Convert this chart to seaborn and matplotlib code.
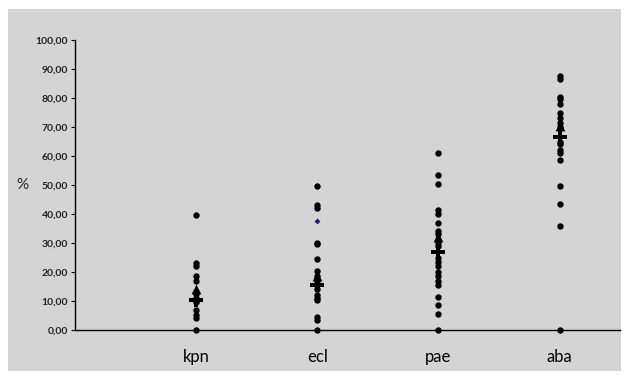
import pandas as pd
import numpy as np
import matplotlib.pyplot as plt
import seaborn as sns
from matplotlib.patches import Rectangle
from matplotlib.ticker import FuncFormatter

################ DATA ################
groups = ['kpn', 'ecl', 'pae', 'aba']

kpn = [39.5, 23.0, 22.0, 18.5, 17.0, 12.5, 11.0, 10.0, 9.5, 7.0, 5.0, 4.0, 0.0]
ecl = [49.5, 43.0, 42.0, 30.0, 29.5, 24.5, 20.5, 18.5, 17.0, 15.5, 14.0, 12.0,
       11.0, 10.5, 4.5, 3.5, 0.0]
pae = [61.0, 53.5, 50.5, 41.5, 40.0, 37.0, 34.0, 33.0, 30.0, 29.0, 25.0, 23.5,
       22.0, 20.0, 18.5, 17.0, 15.5, 11.5, 8.5, 5.5, 0.0]
aba = [87.5, 86.5, 80.5, 79.5, 78.0, 75.0, 73.0, 71.5, 70.0, 65.0, 64.0, 62.0,
       61.0, 58.5, 49.5, 43.5, 36.0, 0.0]

# summary markers
mean_vals = [14.0, 18.5, 32.0, 70.5]     # triangles
median_vals = [10.5, 15.5, 27.0, 66.5]   # thick crosses

# single blue point in ecl
extra_group = ['ecl']
extra_vals = [37.5]

################ LONG FORMAT ################
df = pd.DataFrame({
    'group': ['kpn'] * len(kpn) + ['ecl'] * len(ecl) + ['pae'] * len(pae) + ['aba'] * len(aba),
    'value': kpn + ecl + pae + aba
})
df_mean = pd.DataFrame({'group': groups, 'value': mean_vals})
df_med = pd.DataFrame({'group': groups, 'value': median_vals})
df_extra = pd.DataFrame({'group': extra_group, 'value': extra_vals})

################ PLOT ################
sns.set_style('white')
plt.rcParams['font.family'] = ['Lato', 'DejaVu Sans']

fig = plt.figure(figsize=(6.29, 3.80), dpi=100)
fig.patch.set_facecolor('white')
fig.patches.append(Rectangle((8 / 629, 9 / 380), 613 / 629, 362 / 380,
                             transform=fig.transFigure, facecolor='#d4d4d4',
                             edgecolor='none', zorder=-10))

ax = fig.add_axes([0.119, 0.1316, 0.867, 0.763])
ax.set_facecolor('none')

sns.stripplot(data=df, x='group', y='value', order=groups, jitter=False,
              color='black', size=4.6, linewidth=0, ax=ax, clip_on=False, zorder=3)
sns.stripplot(data=df_extra, x='group', y='value', order=groups, jitter=False,
              color='#1a1a8c', marker='D', size=3, linewidth=0, ax=ax, zorder=4)
sns.stripplot(data=df_mean, x='group', y='value', order=groups, jitter=False,
              color='black', marker='^', size=7, linewidth=0, ax=ax, zorder=4)
sns.stripplot(data=df_med, x='group', y='value', order=groups, jitter=False,
              color='black', marker='P', size=10.5, linewidth=0, ax=ax, zorder=5)

ax.set_xlim(-1, 3.5)
ax.set_ylim(0, 100)
ax.set_yticks(np.arange(0, 101, 10))
ax.yaxis.set_major_formatter(FuncFormatter(lambda v, p: f"{v:.2f}".replace('.', ',')))
ax.tick_params(axis='y', left=True, length=3, width=0.8, color='black',
               labelsize=7.5, labelcolor='#222222', pad=2)
for lab in ax.get_yticklabels():
    lab.set_fontweight('bold')
ax.tick_params(axis='x', bottom=False, labelsize=12, labelcolor='black', pad=10)

ax.set_xlabel('')
ax.set_ylabel('%', rotation=0, fontsize=11, labelpad=9, va='center')

sns.despine(ax=ax, top=True, right=True)
ax.spines['left'].set_color('black')
ax.spines['left'].set_linewidth(1.0)
ax.spines['bottom'].set_color('black')
ax.spines['bottom'].set_linewidth(1.0)

fig.savefig('out.png', dpi=100)
